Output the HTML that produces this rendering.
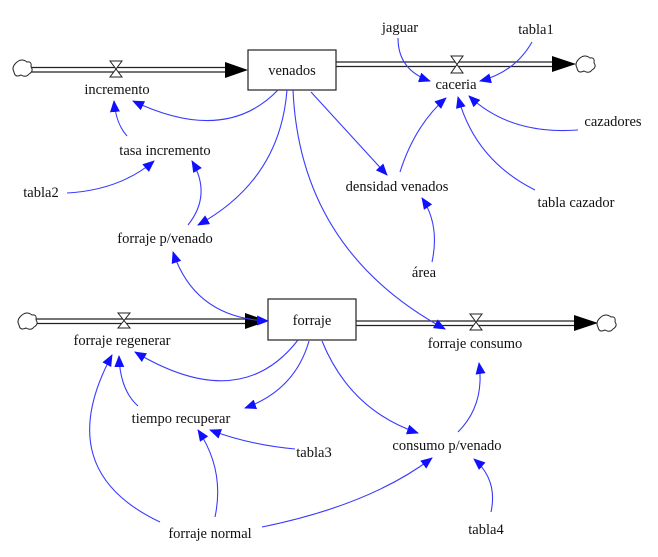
<!DOCTYPE html>
<html><head><meta charset="utf-8"><style>
html,body{margin:0;padding:0;background:#fff;}
svg{display:block;}
text{font-family:"Liberation Serif",serif;font-size:14.5px;fill:#111;text-anchor:middle;}
.c{fill:none;stroke:#3a3aff;stroke-width:1.1;marker-end:url(#a);}
.p{stroke:#222;stroke-width:1.2;}
.cl{fill:#fff;stroke:#222;stroke-width:1;}
</style></head><body>
<svg width="658" height="557" viewBox="0 0 658 557" xmlns="http://www.w3.org/2000/svg">
<defs>
<marker id="a" markerWidth="12" markerHeight="10" refX="11" refY="5" orient="auto" markerUnits="userSpaceOnUse">
<path d="M0,0 L12,5 L0,10 Z" fill="#1010ff"/></marker>
<marker id="s" markerWidth="12" markerHeight="10" refX="1" refY="5" orient="auto" markerUnits="userSpaceOnUse">
<path d="M12,0 L0,5 L12,10 Z" fill="#1010ff"/></marker>
</defs>

<!-- top flow -->
<line class="p" x1="30" y1="67.5" x2="228" y2="67.5"/>
<line class="p" x1="30" y1="72" x2="228" y2="72"/>
<path d="M225,62 L248,70 L225,78 Z" fill="#000"/>
<path class="cl" d="M17,62 q5,-4 10,0 q5,-1 4,5 q3,4 -2,7 q-3,4 -8,1 q-6,3 -7,-3 q-3,-5 3,-10 z"/>
<path d="M110,61 L122,61 L110,77 L122,77 Z" fill="#fff" stroke="#222" stroke-width="1"/>
<text x="117" y="94">incremento</text>

<rect x="248" y="50" width="88" height="40" fill="#fff" stroke="#222" stroke-width="1.2"/>
<text x="292" y="75">venados</text>

<line class="p" x1="336" y1="62" x2="556" y2="62"/>
<line class="p" x1="336" y1="66.5" x2="556" y2="66.5"/>
<path d="M552,56 L576,64 L552,72 Z" fill="#000"/>
<path class="cl" d="M580,58 q5,-4 10,0 q5,-1 4,5 q3,4 -2,7 q-3,4 -8,1 q-6,3 -7,-3 q-3,-5 3,-10 z"/>
<path d="M451,56 L463,56 L451,73 L463,73 Z" fill="#fff" stroke="#222" stroke-width="1"/>
<text x="456" y="89">caceria</text>

<text x="400" y="32">jaguar</text>
<text x="536" y="34">tabla1</text>
<text x="613" y="126">cazadores</text>
<text x="576" y="207">tabla cazador</text>
<text x="397" y="191">densidad venados</text>
<text x="424" y="277">área</text>
<text x="165" y="155">tasa incremento</text>
<text x="41" y="197">tabla2</text>
<text x="165" y="243">forraje p/venado</text>

<!-- bottom flow -->
<line class="p" x1="36" y1="319" x2="250" y2="319"/>
<line class="p" x1="36" y1="323.5" x2="250" y2="323.5"/>
<path d="M245,313 L268,321 L245,329 Z" fill="#000"/>
<path class="cl" d="M22,315 q5,-4 10,0 q5,-1 4,5 q3,4 -2,7 q-3,4 -8,1 q-6,3 -7,-3 q-3,-5 3,-10 z"/>
<path d="M118,313 L130,313 L118,328 L130,328 Z" fill="#fff" stroke="#222" stroke-width="1"/>
<text x="122" y="345">forraje regenerar</text>

<rect x="268" y="299" width="88" height="41" fill="#fff" stroke="#222" stroke-width="1.2"/>
<text x="312" y="325">forraje</text>

<line class="p" x1="356" y1="321" x2="578" y2="321"/>
<line class="p" x1="356" y1="325.5" x2="578" y2="325.5"/>
<path d="M574,315 L598,323 L574,331 Z" fill="#000"/>
<path class="cl" d="M601,317 q5,-4 10,0 q5,-1 4,5 q3,4 -2,7 q-3,4 -8,1 q-6,3 -7,-3 q-3,-5 3,-10 z"/>
<path d="M470,314 L482,314 L470,330 L482,330 Z" fill="#fff" stroke="#222" stroke-width="1"/>
<text x="475" y="348">forraje consumo</text>

<text x="181" y="423">tiempo recuperar</text>
<text x="314" y="457">tabla3</text>
<text x="447" y="450">consumo p/venado</text>
<text x="210" y="538">forraje normal</text>
<text x="486" y="534">tabla4</text>

<!-- connectors top -->
<path class="c" d="M278,90 Q225,145 133,101"/>
<path class="c" d="M127,136 Q116,124 114,101"/>
<path class="c" d="M67,193 Q120,190 154,161"/>
<path class="c" d="M188,225 Q212,195 192,161"/>
<path class="c" d="M287,90 Q280,180 198,225"/>
<path class="c" d="M293,90 Q300,250 445,329"/>
<path class="c" d="M311,92 L387,175"/>
<path class="c" d="M400,172 Q415,125 446,98"/>
<path class="c" d="M398,38 Q398,70 430,81"/>
<path class="c" d="M532,42 Q515,72 480,81"/>
<path class="c" d="M578,130 Q510,135 469,96"/>
<path class="c" d="M535,190 Q475,160 458,97"/>
<path class="c" d="M432,262 Q440,225 422,198"/>
<path class="c" d="M173,252 Q195,318 268,321" style="marker-start:url(#s)"/>

<!-- connectors bottom -->
<path class="c" d="M298,340 Q240,415 135,352"/>
<path class="c" d="M309,341 Q295,390 245,408"/>
<path class="c" d="M322,341 Q350,410 418,433"/>
<path class="c" d="M138,406 Q120,390 119,356"/>
<path class="c" d="M160,522 Q50,470 112,355"/>
<path class="c" d="M215,517 Q225,470 198,430"/>
<path class="c" d="M295,449 Q250,445 210,430"/>
<path class="c" d="M262,527 Q370,505 432,458"/>
<path class="c" d="M491,512 Q498,480 474,459"/>
<path class="c" d="M458,432 Q485,405 479,363"/>
</svg>
</body></html>
